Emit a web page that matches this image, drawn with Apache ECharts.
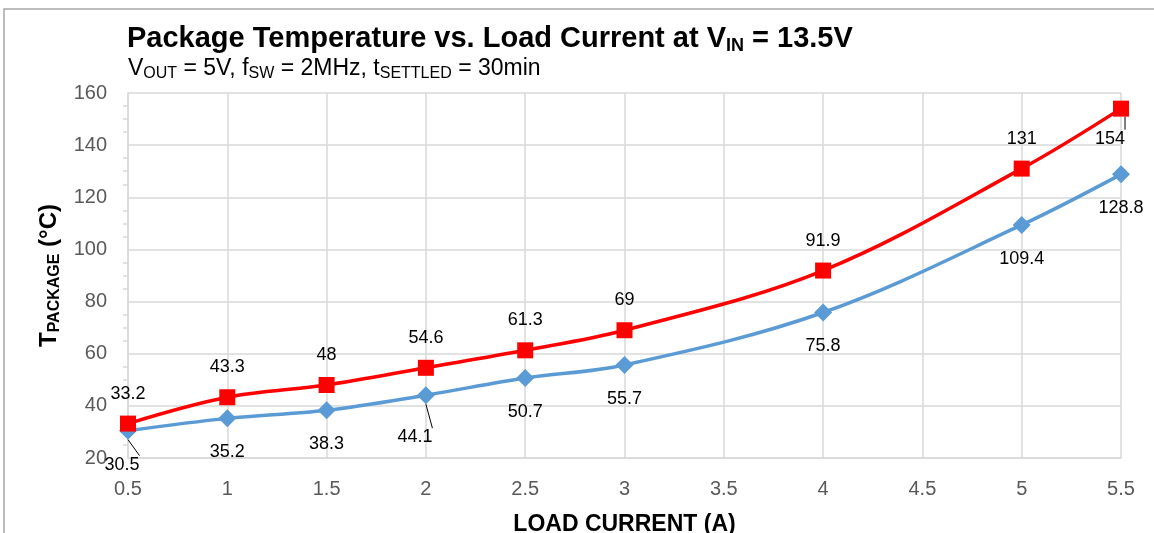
<!DOCTYPE html>
<html>
<head>
<meta charset="UTF-8">
<title>Package Temperature vs. Load Current</title>
<script src="https://cdn.jsdelivr.net/npm/echarts@6/dist/echarts.min.js"></script>
<style>
  html, body { margin: 0; padding: 0; background: #fff; }
  #chart { width: 1154px; height: 533px; }
</style>
</head>
<body>
<div id="chart"></div>
<script type="text/javascript">
// load current (A)
var current = [0.5, 1, 1.5, 2, 2.5, 3, 4, 5, 5.5];
// package temperature, upper curve (red squares)
var tempHigh = [33.2, 43.3, 48, 54.6, 61.3, 69, 91.9, 131, 154];
// package temperature, lower curve (blue diamonds)
var tempLow = [30.5, 35.2, 38.3, 44.1, 50.7, 55.7, 75.8, 109.4, 128.8];

var FONT = 'Liberation Sans, Arial, sans-serif';
var GRID_COLOR = '#d9d9d9';

// a few labels sit on the other side of the point, with a leader line
var highMoved = { 8: [-11, 0] };
var lowMoved = { 0: [-6, 0], 3: [-11, 8] };

function buildData(vals, moved, flipPos) {
  var out = [];
  for (var i = 0; i < vals.length; i++) {
    var item = { value: [current[i], vals[i]] };
    if (moved[i]) {
      item.label = { position: flipPos, offset: moved[i] };
      item.labelLine = { show: true };
    }
    out.push(item);
  }
  return out;
}

var chart = echarts.init(document.getElementById('chart'));

var option = {
  animation: false,
  backgroundColor: '#fff',
  textStyle: { fontFamily: FONT },
  title: [{
    left: 127,
    top: 22,
    padding: 0,
    text: '{b|Package Temperature vs. Load Current at V}{bs|IN}{b| = 13.5V}',
    textStyle: {
      rich: {
        b: { fontSize: 29, fontWeight: 'bold', color: '#000', fontFamily: FONT, lineHeight: 34 },
        bs: { fontSize: 18, fontWeight: 'bold', color: '#000', fontFamily: FONT, lineHeight: 34, padding: [14, 0, 0, 0] }
      }
    }
  }, {
    left: 128,
    top: 55,
    padding: 0,
    text: '{n|V}{s|OUT}{n| = 5V, f}{s|SW}{n| = 2MHz, t}{s|SETTLED}{n| = 30min}',
    textStyle: {
      fontWeight: 'normal',
      rich: {
        n: { fontSize: 23, fontWeight: 'normal', color: '#000', fontFamily: FONT, lineHeight: 28 },
        s: { fontSize: 16, fontWeight: 'normal', color: '#000', fontFamily: FONT, lineHeight: 28, padding: [10, 0, 0, 0] }
      }
    }
  }],
  graphic: [{
    type: 'polyline',
    shape: { points: [[4, 533], [4, 9], [1154, 9]] },
    style: { stroke: '#a6a6a6', lineWidth: 1.5, fill: null },
    silent: true
  }],
  grid: { left: 128, right: 33, top: 93, bottom: 75, outerBoundsMode: 'none', containLabel: false },
  xAxis: {
    type: 'value',
    min: 0.5,
    max: 5.5,
    interval: 0.5,
    name: 'LOAD CURRENT (A)',
    nameLocation: 'middle',
    nameGap: 55,
    nameTextStyle: { fontSize: 23, fontWeight: 'bold', color: '#000', fontFamily: FONT },
    axisLine: { show: true, lineStyle: { color: GRID_COLOR, width: 1.5 } },
    axisTick: { show: false },
    axisLabel: { fontSize: 20, color: '#595959', margin: 21, fontFamily: FONT },
    splitLine: { show: true, lineStyle: { color: GRID_COLOR, width: 1.5 } }
  },
  yAxis: {
    type: 'value',
    min: 20,
    max: 160,
    interval: 20,
    name: '{b|T}{bs|PACKAGE}{b| (°C)}',
    nameLocation: 'middle',
    nameRotate: 90,
    nameGap: 60,
    nameTextStyle: {
      rich: {
        b: { fontSize: 24, fontWeight: 'bold', color: '#000', fontFamily: FONT, lineHeight: 30 },
        bs: { fontSize: 16, fontWeight: 'bold', color: '#000', fontFamily: FONT, lineHeight: 30, padding: [11, 0, 0, 0] }
      }
    },
    axisLine: { show: true, lineStyle: { color: GRID_COLOR, width: 1.5 } },
    axisTick: { show: false },
    minorTick: { show: true, splitNumber: 4, length: 5, lineStyle: { color: GRID_COLOR, width: 1.5 } },
    axisLabel: { fontSize: 20, color: '#595959', margin: 21, fontFamily: FONT },
    splitLine: { show: true, lineStyle: { color: GRID_COLOR, width: 1.5 } }
  },
  series: [{
    name: 'low',
    type: 'line',
    smooth: 0.35,
    symbol: 'diamond',
    symbolSize: 18,
    lineStyle: { color: '#5b9bd5', width: 3.5 },
    itemStyle: { color: '#5b9bd5' },
    label: { show: true, position: 'bottom', distance: 16, fontSize: 18, color: '#000', fontFamily: FONT },
    labelLine: { show: false, lineStyle: { color: '#000', width: 1 } },
    data: buildData(tempLow, lowMoved, 'bottom')
  }, {
    name: 'high',
    type: 'line',
    smooth: 0.35,
    symbol: 'rect',
    symbolSize: 16,
    lineStyle: { color: '#ff0000', width: 3.5 },
    itemStyle: { color: '#ff0000' },
    label: { show: true, position: 'top', distance: 13, fontSize: 18, color: '#000', fontFamily: FONT },
    labelLine: { show: false, lineStyle: { color: '#000', width: 1 } },
    data: buildData(tempHigh, highMoved, 'bottom')
  }]
};

chart.setOption(option);
</script>
</body>
</html>
